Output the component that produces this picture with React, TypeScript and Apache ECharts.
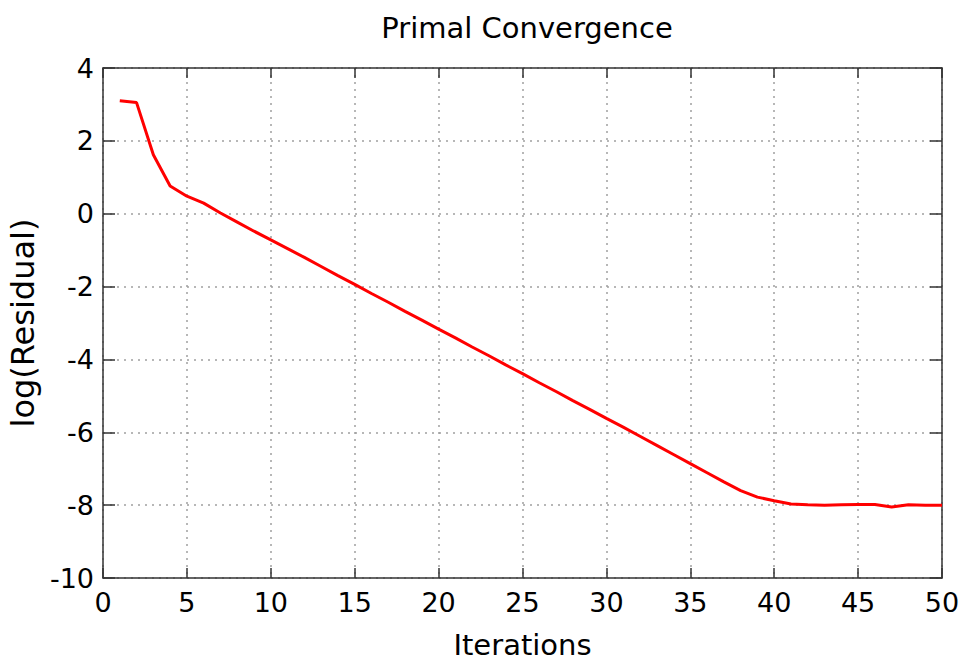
import React, { useEffect, useRef } from "react";
import * as echarts from "echarts";

const iterations: number[] = [
  1, 2, 3, 4, 5, 6, 7, 8, 9, 10, 11, 12, 13, 14, 15, 16, 17, 18, 19, 20, 21, 22, 23, 24, 25,
  26, 27, 28, 29, 30, 31, 32, 33, 34, 35, 36, 37, 38, 39, 40, 41, 42, 43, 44, 45, 46, 47, 48, 49, 50,
];
const logResidual: number[] = [
  3.1, 3.05, 1.62, 0.76, 0.48, 0.29, 0.02, -0.23, -0.48, -0.72,
  -0.96, -1.2, -1.45, -1.7, -1.94, -2.19, -2.43, -2.68, -2.92, -3.17,
  -3.41, -3.66, -3.9, -4.15, -4.39, -4.64, -4.88, -5.13, -5.37, -5.62,
  -5.86, -6.11, -6.36, -6.61, -6.86, -7.11, -7.36, -7.6, -7.78, -7.88,
  -7.97, -7.99, -8.0, -7.99, -7.98, -7.98, -8.05, -7.99, -8.0, -8.0,
];
const titleText = "Primal Convergence";
const xName = "Iterations";
const yName = "log(Residual)";

const FONT = "'DejaVu Sans', Verdana, sans-serif";
const AXIS_COLOR = "#333333";
const TEXT_COLOR = "#000000";
const splitStyle = { show: true, lineStyle: { color: "#a0a0a0", type: [2, 5] as any, width: 1.5 } };

export default function App() {
  const ref = useRef<HTMLDivElement>(null);
  useEffect(() => {
    if (!ref.current) return;
    const chart = echarts.init(ref.current, null, { renderer: "svg" });
    const data = iterations.map((it, i) => [it, logResidual[i]]);
    const hiddenLabels = { show: false };
    chart.setOption({
      animation: false,
      backgroundColor: "#ffffff",
      title: {
        text: titleText,
        left: 522,
        textAlign: "center",
        top: 8,
        textStyle: { fontFamily: FONT, fontSize: 29, fontWeight: "normal", color: TEXT_COLOR },
      },
      grid: { left: 103, right: 24, top: 68, bottom: 86, containLabel: false, outerBoundsMode: "none" },
      xAxis: [
        {
          type: "value",
          min: 0,
          max: 50,
          interval: 5,
          name: xName,
          nameLocation: "middle",
          nameGap: 52,
          nameTextStyle: { fontFamily: FONT, fontSize: 29, color: TEXT_COLOR },
          axisLine: { show: true, onZero: false, lineStyle: { color: AXIS_COLOR, width: 1.5 } },
          axisTick: { show: true, inside: true, length: 10, lineStyle: { color: AXIS_COLOR, width: 1.5 } },
          axisLabel: { fontFamily: FONT, fontSize: 27, color: TEXT_COLOR, margin: 11 },
          splitLine: splitStyle,
        },
        {
          type: "value",
          position: "top",
          min: 0,
          max: 50,
          interval: 5,
          axisLine: { show: true, onZero: false, lineStyle: { color: AXIS_COLOR, width: 1.5 } },
          axisTick: { show: true, inside: true, length: 10, lineStyle: { color: AXIS_COLOR, width: 1.5 } },
          axisLabel: hiddenLabels,
          splitLine: { show: false },
        },
      ],
      yAxis: [
        {
          type: "value",
          min: -10,
          max: 4,
          interval: 2,
          name: yName,
          nameLocation: "middle",
          nameGap: 57,
          nameTextStyle: { fontFamily: FONT, fontSize: 32, color: TEXT_COLOR },
          axisLine: { show: true, onZero: false, lineStyle: { color: AXIS_COLOR, width: 1.5 } },
          axisTick: { show: true, inside: true, length: 12, lineStyle: { color: AXIS_COLOR, width: 1.5 } },
          axisLabel: { fontFamily: FONT, fontSize: 27, color: TEXT_COLOR, margin: 9 },
          splitLine: splitStyle,
        },
        {
          type: "value",
          position: "right",
          min: -10,
          max: 4,
          interval: 2,
          axisLine: { show: true, onZero: false, lineStyle: { color: AXIS_COLOR, width: 1.5 } },
          axisTick: { show: true, inside: true, length: 12, lineStyle: { color: AXIS_COLOR, width: 1.5 } },
          axisLabel: hiddenLabels,
          splitLine: { show: false },
        },
      ],
      series: [
        {
          type: "line",
          data,
          xAxisIndex: 0,
          yAxisIndex: 0,
          showSymbol: false,
          symbol: "none",
          lineStyle: { color: "#ff0000", width: 3 },
        },
      ],
    });
    return () => chart.dispose();
  }, []);
  return <div ref={ref} style={{ width: 966, height: 664, position: "absolute", left: 0, top: 0 }} />;
}
